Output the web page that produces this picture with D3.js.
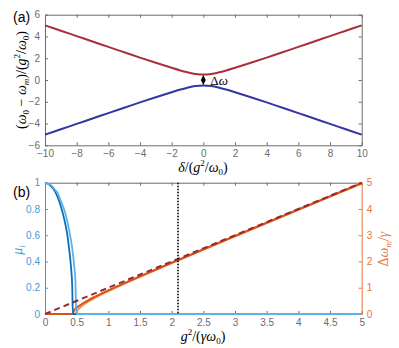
<!DOCTYPE html>
<html>
<head>
<meta charset="utf-8">
<script src="https://cdn.jsdelivr.net/npm/d3@7"></script>
<style>
  body { margin: 0; background: #fff; }
  svg { display: block; font-family: "Liberation Sans", Arial, sans-serif; }
</style>
</head>
<body>
<svg id="chart" width="399" height="348"></svg>
<script>
// ---- panel (a) data: branches vs detuning ----
const delta = [-10, -9, -8, -7, -6, -5, -4, -3, -2, -1.5, -1, -0.5, 0, 0.5, 1, 1.5, 2, 3, 4, 5, 6, 7, 8, 9, 10]
const upperBranch = [5.02, 4.53, 4.03, 3.54, 3.04, 2.55, 2.06, 1.58, 1.12, 0.9, 0.71, 0.56, 0.5, 0.56, 0.71, 0.9, 1.12, 1.58, 2.06, 2.55, 3.04, 3.54, 4.03, 4.53, 5.02]
const lowerBranch = [-5.02, -4.53, -4.03, -3.54, -3.04, -2.55, -2.06, -1.58, -1.12, -0.9, -0.71, -0.56, -0.5, -0.56, -0.71, -0.9, -1.12, -1.58, -2.06, -2.55, -3.04, -3.54, -4.03, -4.53, -5.02]
const aXTicks = [-10, -8, -6, -4, -2, 0, 2, 4, 6, 8, 10]
const aYTicks = [-6, -4, -2, 0, 2, 4, 6]

// ---- panel (b) data ----
const gMuDark = [0, 0.05, 0.1, 0.15, 0.2, 0.25, 0.3, 0.35, 0.38, 0.41, 0.43, 0.44, 5]
const muDark = [1, 0.99, 0.97, 0.94, 0.89, 0.82, 0.73, 0.61, 0.5, 0.36, 0.21, 0, 0]
const gMuLight = [0, 0.05, 0.1, 0.15, 0.2, 0.25, 0.3, 0.35, 0.4, 0.43, 0.46, 0.48, 0.495, 5]
const muLight = [1, 0.99, 0.98, 0.95, 0.92, 0.86, 0.8, 0.71, 0.59, 0.5, 0.37, 0.25, 0, 0]
const gDwDark = [0, 0.44, 0.45, 0.47, 0.5, 0.55, 0.6, 0.7, 0.8, 1, 1.5, 2, 3, 4, 5]
const dwDark = [0, 0, 0.09, 0.17, 0.24, 0.33, 0.41, 0.55, 0.67, 0.9, 1.43, 1.95, 2.97, 3.98, 4.98]
const gDwLight = [0, 0.495, 0.5, 0.52, 0.55, 0.6, 0.7, 0.8, 1, 1.5, 2, 3, 4, 5]
const dwLight = [0, 0, 0.07, 0.16, 0.24, 0.34, 0.5, 0.63, 0.87, 1.42, 1.94, 2.96, 3.97, 4.98]
const gRef = [0, 5]
const dwRef = [0, 5]
const gMarker = 2.1
const bXTicks = [0, 0.5, 1, 1.5, 2, 2.5, 3, 3.5, 4, 4.5, 5]
const muTicks = [0, 0.2, 0.4, 0.6, 0.8, 1]
const dwTicks = [0, 1, 2, 3, 4, 5]

const svg = d3.select('#chart')
const L = 45, R = 361.7
const axisGray = '#6b6b6b'
const serif = '"Liberation Serif", "DejaVu Serif", serif'

function styleAxis(g, color) {
    g.select('.domain').attr('stroke', color)
    g.selectAll('.tick line').attr('stroke', color)
    g.selectAll('.tick text').attr('fill', color).attr('font-size', 10)
        .attr('font-family', '"Liberation Sans", Arial, sans-serif')
}

// ================= panel (a) =================
const xa = d3.scaleLinear().domain([-10, 10]).range([L, R])
const ya = d3.scaleLinear().domain([-6, 6]).range([145.3, 14.7])

svg.append('g').attr('transform', 'translate(0,145.3)')
    .call(d3.axisBottom(xa).tickValues(aXTicks).tickSizeInner(-3).tickSizeOuter(0).tickPadding(5))
    .call(g => styleAxis(g, axisGray))
svg.append('g').attr('transform', 'translate(0,14.7)')
    .call(d3.axisTop(xa).tickValues(aXTicks).tickSizeInner(-3).tickSizeOuter(0).tickFormat(''))
    .call(g => styleAxis(g, axisGray))
svg.append('g').attr('transform', 'translate(' + L + ',0)')
    .call(d3.axisLeft(ya).tickValues(aYTicks).tickSizeInner(-3).tickSizeOuter(0).tickPadding(5))
    .call(g => styleAxis(g, axisGray))
svg.append('g').attr('transform', 'translate(' + R + ',0)')
    .call(d3.axisRight(ya).tickValues(aYTicks).tickSizeInner(-3).tickSizeOuter(0).tickFormat(''))
    .call(g => styleAxis(g, axisGray))

const lineA = d3.line().x(d => xa(d[0])).y(d => ya(d[1])).curve(d3.curveCatmullRom)
svg.append('path').datum(delta.map((d, i) => [d, upperBranch[i]]))
    .attr('d', lineA).attr('fill', 'none').attr('stroke', '#a8303a').attr('stroke-width', 2)
svg.append('path').datum(delta.map((d, i) => [d, lowerBranch[i]]))
    .attr('d', lineA).attr('fill', 'none').attr('stroke', '#3535a3').attr('stroke-width', 2)

// gap arrow
const defs = svg.append('defs')
defs.append('marker').attr('id', 'ah').attr('viewBox', '0 0 10 10').attr('refX', 9).attr('refY', 5)
    .attr('markerWidth', 4).attr('markerHeight', 4).attr('orient', 'auto-start-reverse')
    .append('path').attr('d', 'M0,0 L10,5 L0,10 z').attr('fill', '#000')
svg.append('line').attr('x1', xa(0)).attr('x2', xa(0))
    .attr('y1', ya(0.4)).attr('y2', ya(-0.4))
    .attr('stroke', '#000').attr('stroke-width', 1.2)
    .attr('marker-start', 'url(#ah)').attr('marker-end', 'url(#ah)')
svg.append('text').attr('x', xa(0) + 7).attr('y', ya(0) + 5)
    .attr('font-family', serif).attr('font-size', 13)
    .html('Δ<tspan font-style="italic">ω</tspan>')

// labels (a)
svg.append('text').attr('x', 13).attr('y', 22).attr('font-size', 14).text('(a)')
svg.append('text').attr('x', 203).attr('y', 172).attr('text-anchor', 'middle')
    .attr('font-family', serif).attr('font-size', 14).attr('font-style', 'italic')
    .html('δ<tspan font-style="normal">/(</tspan>g<tspan dy="-6" font-size="9" font-style="normal">2</tspan><tspan dy="6" font-style="normal">/</tspan>ω<tspan dy="3" font-size="9" font-style="normal">0</tspan><tspan dy="-3" font-style="normal">)</tspan>')
svg.append('text').attr('transform', 'translate(26,80) rotate(-90)').attr('text-anchor', 'middle')
    .attr('font-family', serif).attr('font-size', 14).attr('font-style', 'italic')
    .html('<tspan font-style="normal">(</tspan>ω<tspan dy="3" font-size="9" font-style="normal">0</tspan><tspan dy="-3" font-style="normal"> − </tspan>ω<tspan dy="3" font-size="9">m</tspan><tspan dy="-3" font-style="normal">)/(</tspan>g<tspan dy="-6" font-size="9" font-style="normal">2</tspan><tspan dy="6" font-style="normal">/</tspan>ω<tspan dy="3" font-size="9" font-style="normal">0</tspan><tspan dy="-3" font-style="normal">)</tspan>')

// ================= panel (b) =================
const xb = d3.scaleLinear().domain([0, 5]).range([L, R])
const yMu = d3.scaleLinear().domain([0, 1]).range([314, 182.7])
const yDw = d3.scaleLinear().domain([0, 5]).range([314, 182.7])
const muColor = '#3f9ad9', dwColor = '#e8743b'

svg.append('g').attr('transform', 'translate(0,314)')
    .call(d3.axisBottom(xb).tickValues(bXTicks).tickFormat(d3.format('')).tickSizeInner(-3).tickSizeOuter(0).tickPadding(5))
    .call(g => styleAxis(g, axisGray))
svg.append('g').attr('transform', 'translate(0,182.7)')
    .call(d3.axisTop(xb).tickValues(bXTicks).tickSizeInner(-3).tickSizeOuter(0).tickFormat(''))
    .call(g => styleAxis(g, axisGray))
svg.append('g').attr('transform', 'translate(' + L + ',0)')
    .call(d3.axisLeft(yMu).tickValues(muTicks).tickFormat(d3.format('')).tickSizeInner(-3).tickSizeOuter(0).tickPadding(5))
    .call(g => styleAxis(g, muColor))
svg.append('g').attr('transform', 'translate(' + R + ',0)')
    .call(d3.axisRight(yDw).tickValues(dwTicks).tickFormat(d3.format('')).tickSizeInner(-3).tickSizeOuter(0).tickPadding(5))
    .call(g => styleAxis(g, dwColor))

const lineMu = d3.line().x(d => xb(d[0])).y(d => yMu(d[1])).curve(d3.curveMonotoneX)
const lineDw = d3.line().x(d => xb(d[0])).y(d => yDw(d[1])).curve(d3.curveMonotoneX)

svg.append('path').datum(gDwLight.map((g, i) => [g, dwLight[i]]))
    .attr('d', lineDw).attr('fill', 'none').attr('stroke', '#f0915a').attr('stroke-width', 2)
svg.append('path').datum(gDwDark.map((g, i) => [g, dwDark[i]]))
    .attr('d', lineDw).attr('fill', 'none').attr('stroke', '#d95319').attr('stroke-width', 2)
svg.append('path').datum(gMuDark.map((g, i) => [g, muDark[i]]))
    .attr('d', lineMu).attr('fill', 'none').attr('stroke', '#0b6fb8').attr('stroke-width', 1.8)
svg.append('path').datum(gMuLight.map((g, i) => [g, muLight[i]]))
    .attr('d', lineMu).attr('fill', 'none').attr('stroke', '#5fb0e8').attr('stroke-width', 1.8)
svg.append('path').datum(gRef.map((g, i) => [g, dwRef[i]]))
    .attr('d', d3.line().x(d => xb(d[0])).y(d => yDw(d[1])))
    .attr('fill', 'none').attr('stroke', '#9a2a30').attr('stroke-width', 2).attr('stroke-dasharray', '6,4')
svg.append('line').attr('x1', xb(gMarker)).attr('x2', xb(gMarker))
    .attr('y1', yMu(1)).attr('y2', yMu(0))
    .attr('stroke', '#000').attr('stroke-width', 1.6).attr('stroke-dasharray', '1.5,1.5')

// labels (b)
svg.append('text').attr('x', 13).attr('y', 197).attr('font-size', 14).text('(b)')
svg.append('text').attr('x', 203).attr('y', 341).attr('text-anchor', 'middle')
    .attr('font-family', serif).attr('font-size', 14).attr('font-style', 'italic')
    .html('g<tspan dy="-6" font-size="9" font-style="normal">2</tspan><tspan dy="6" font-style="normal">/(</tspan>γω<tspan dy="3" font-size="9" font-style="normal">0</tspan><tspan dy="-3" font-style="normal">)</tspan>')
svg.append('text').attr('transform', 'translate(22,250) rotate(-90)').attr('text-anchor', 'middle')
    .attr('font-family', serif).attr('font-size', 14).attr('font-style', 'italic')
    .attr('fill', muColor)
    .html('μ<tspan dy="3" font-size="9">i</tspan>')
svg.append('text').attr('transform', 'translate(388,249) rotate(-90)').attr('text-anchor', 'middle')
    .attr('font-family', serif).attr('font-size', 14).attr('font-style', 'italic')
    .attr('fill', dwColor)
    .html('<tspan font-style="normal">Δ</tspan>ω<tspan dy="3" font-size="9">m</tspan><tspan dy="-3" font-style="normal">/</tspan>γ')
</script>
</body>
</html>
